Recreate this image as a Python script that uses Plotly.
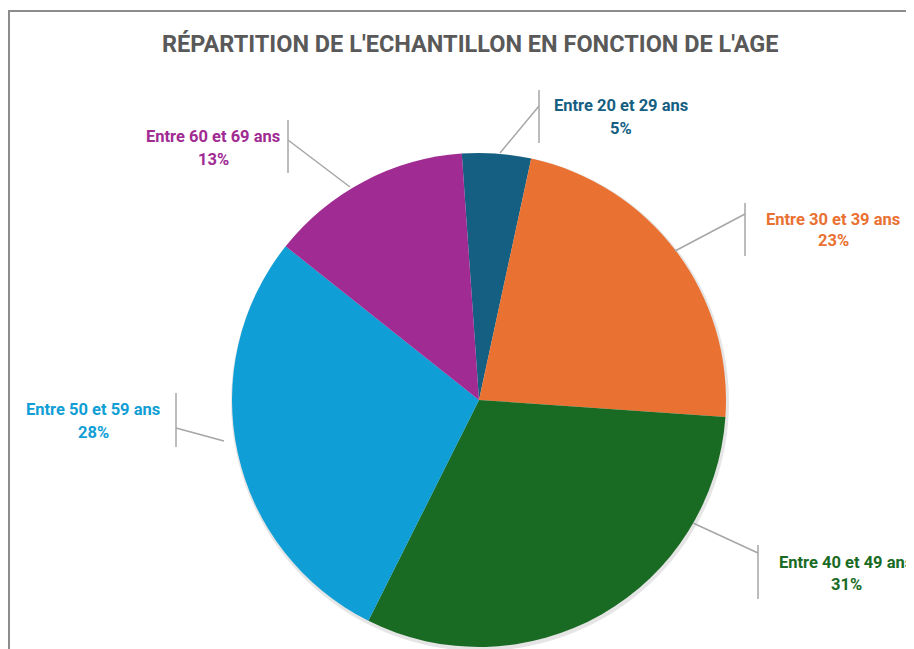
import math
import plotly.graph_objects as go

# ---- data ----
categories = ["Entre 20 et 29 ans", "Entre 30 et 39 ans", "Entre 40 et 49 ans",
              "Entre 50 et 59 ans", "Entre 60 et 69 ans"]
values = [4.5, 22.7, 31.3, 28.3, 13.2]
colors = ["#156082", "#E97132", "#196B24", "#0F9ED5", "#A02B93"]

OFF = 8  # page body margin
W, H = 914 - OFF, 649 - OFF
CX, CY, R = 479, 400, 247

def px(x):
    return (x - OFF) / W

def py(y):
    return 1 - (y - OFF) / H

total = sum(values)
pct_text = [f"{int(math.floor(v / total * 100 + 0.5))}%" for v in values]

fig = go.Figure()
fig.add_trace(go.Pie(
    labels=categories, values=values, sort=False, direction="clockwise",
    rotation=-4, marker=dict(colors=colors, line=dict(width=0)),
    textinfo="none", hoverinfo="label+percent", showlegend=False,
    domain=dict(x=[px(CX - R), px(CX + R)], y=[py(CY + R), py(CY - R)]),
))

# Label layout (style/positions in pixels): label centre, bar x, bar y-range, joint y, edge point
label_layout = [
    dict(cx=621, cy=117, bx=539, by=(90, 143), jy=106, ex=500, ey=153),
    dict(cx=833, cy=230, bx=745, by=(203, 256), jy=214, ex=675, ey=251),
    dict(cx=846, cy=573, bx=758, by=(545, 599), jy=553, ex=693, ey=523),
    dict(cx=93, cy=421, bx=176, by=(393, 447), jy=428, ex=224, ey=441),
    dict(cx=213, cy=148, bx=288, by=(120, 173), jy=140, ex=350, ey=187),
]

shapes = []
annotations = []
line_col = "#A6A6A6"
lab_font = 16.5
for cat, pt, col, L in zip(categories, pct_text, colors, label_layout):
    shapes.append(dict(type="line", xref="paper", yref="paper",
                       x0=px(L["bx"]), x1=px(L["bx"]), y0=py(L["by"][0]), y1=py(L["by"][1]),
                       line=dict(color=line_col, width=1.5)))
    shapes.append(dict(type="line", xref="paper", yref="paper",
                       x0=px(L["bx"]), x1=px(L["ex"]), y0=py(L["jy"]), y1=py(L["ey"]),
                       line=dict(color=line_col, width=1.5)))
    annotations.append(dict(text=cat, x=px(L["cx"]), y=py(L["cy"] - 11), xref="paper", yref="paper",
                            showarrow=False, xanchor="center", yanchor="middle",
                            font=dict(family="Roboto", size=lab_font, color=col, weight="bold")))
    annotations.append(dict(text=pt, x=px(L["cx"]), y=py(L["cy"] + 11), xref="paper", yref="paper",
                            showarrow=False, xanchor="center", yanchor="middle",
                            font=dict(family="Roboto", size=lab_font, color=col, weight="bold")))

# subtle shadow under the pie
shapes.append(dict(type="circle", xref="paper", yref="paper", layer="below",
                   x0=px(CX - R - 1), x1=px(CX + R + 3), y0=py(CY + R + 4), y1=py(CY - R),
                   fillcolor="rgba(0,0,0,0.10)", line=dict(width=0)))
# chart frame
shapes.append(dict(type="rect", xref="paper", yref="paper",
                   x0=px(9), x1=px(914 + 20), y0=py(649 + 20), y1=py(11),
                   line=dict(color="#8C8C8C", width=2), fillcolor="rgba(0,0,0,0)"))

annotations.append(dict(text="RÉPARTITION DE L'ECHANTILLON EN FONCTION DE L'AGE",
                        x=px(471), y=py(44), xref="paper", yref="paper", showarrow=False,
                        xanchor="center", yanchor="middle",
                        font=dict(family="Roboto", size=23.5, color="#595959", weight="bold")))

fig.update_layout(
    width=W, height=H, margin=dict(l=0, r=0, t=0, b=0),
    paper_bgcolor="white", plot_bgcolor="white",
    shapes=shapes, annotations=annotations,
)

fig.write_html("out.html")
